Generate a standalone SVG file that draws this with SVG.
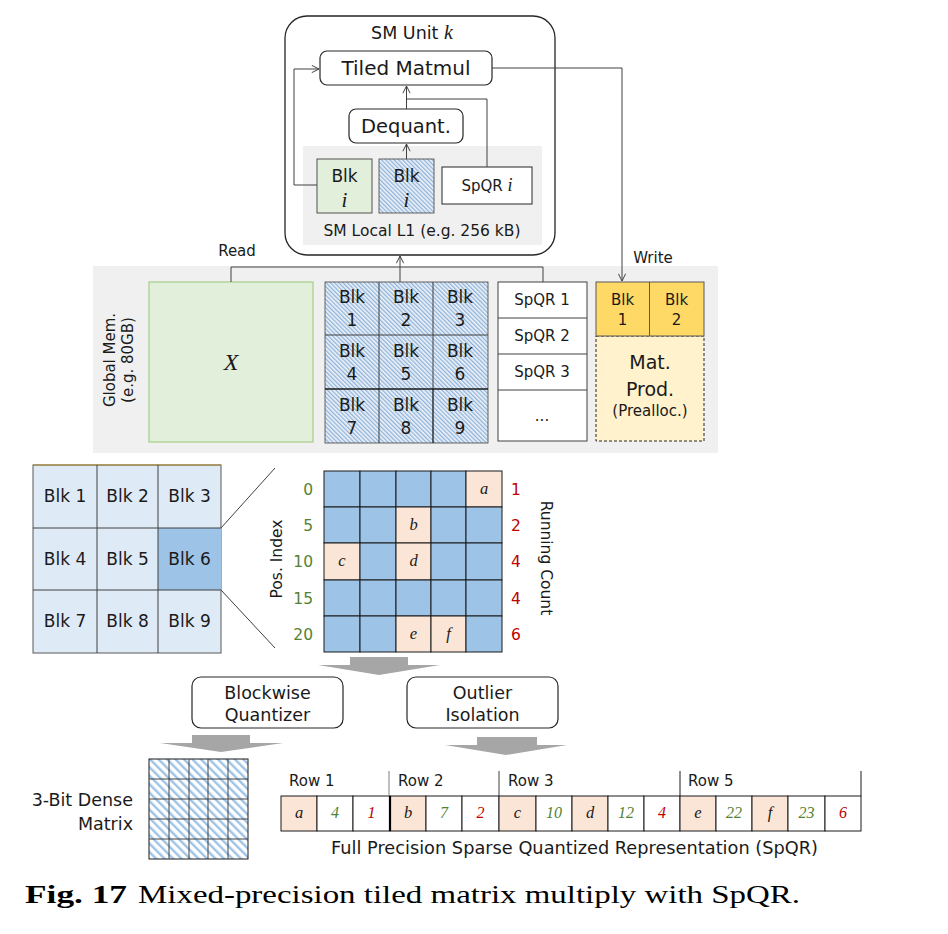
<svg xmlns="http://www.w3.org/2000/svg" width="948" height="934" viewBox="0 0 948 934">
<defs>
<style>
.s{font-family:"DejaVu Sans","Verdana",sans-serif;fill:#1a1a1a}
.m{font-family:"Liberation Serif","DejaVu Serif",serif;font-style:italic;fill:#1a1a1a}
.c{text-anchor:middle}
.ln{fill:none;stroke:#404040;stroke-width:1}
.g{fill:#548235}
.r{fill:#c00000}
.box{fill:#fff;stroke:#262626;stroke-width:1.2}
.hc{fill:url(#hatchFine);stroke:#404040;stroke-width:0.8}
.bl{fill:#9dc3e6;stroke:#1a1a1a;stroke-width:1}
.or{fill:#fbe5d6;stroke:#1a1a1a;stroke-width:1}
.ga{fill:#a6a6a6}
</style>
<pattern id="hatchFine" width="3" height="3" patternUnits="userSpaceOnUse" patternTransform="rotate(-45)">
<rect width="3" height="3" fill="#eef3f9"/>
<rect width="1.3" height="3" fill="#8fb2d8"/>
</pattern>
<pattern id="hatchWide" width="6" height="6" patternUnits="userSpaceOnUse" patternTransform="rotate(-45)">
<rect width="6" height="6" fill="#ffffff"/>
<rect width="2.4" height="6" fill="#9dc3e6"/>
</pattern>
<marker id="arr" viewBox="0 0 10 10" refX="9" refY="5" markerWidth="9" markerHeight="9" orient="auto" markerUnits="userSpaceOnUse">
<path d="M1,1 L9,5 L1,9" fill="none" stroke="#404040" stroke-width="1.1"/>
</marker>
</defs>
<rect width="948" height="934" fill="#ffffff"/>

<!-- Global memory background -->
<g id="global-mem">
<rect x="93" y="266" width="625" height="187" fill="#f0f0f0"/>
<text class="s c" font-size="15" transform="translate(115,360) rotate(-90)">Global Mem.</text>
<text class="s c" font-size="15" transform="translate(133,360) rotate(-90)">(e.g. 80GB)</text>
</g>

<!-- SM unit -->
<g id="sm-unit">
<rect x="285" y="16" width="270" height="239" rx="22" fill="#fff" stroke="#262626" stroke-width="1.3"/>
<text class="s c" font-size="17.5" x="412" y="39">SM Unit <tspan class="m" font-size="20">k</tspan></text>
<rect x="303" y="146" width="239" height="99" fill="#f0f0f0"/>
<text class="s c" font-size="15.5" x="422" y="236">SM Local L1 (e.g. 256 kB)</text>
</g>
<g id="tiled-matmul">
<rect x="320" y="51" width="172" height="34" rx="7" class="box"/>
<text class="s c" font-size="20" x="406" y="75">Tiled Matmul</text>
</g>
<g id="dequant">
<rect x="349" y="109" width="114" height="34" rx="7" class="box"/>
<text class="s c" font-size="19.5" x="406" y="133">Dequant.</text>
</g>
<g id="blk-i-x">
<rect x="317" y="159" width="55" height="54" fill="#e2efda" stroke="#404040" stroke-width="0.9"/>
<text class="s c" font-size="17" x="344.5" y="182">Blk</text>
<text class="m c" font-size="21" x="344.5" y="207">i</text>
</g>
<g id="blk-i-w">
<rect x="379" y="159" width="55" height="54" class="hc"/>
<text class="s c" font-size="17" x="406.5" y="182">Blk</text>
<text class="m c" font-size="21" x="406.5" y="207">i</text>
</g>
<g id="spqr-i">
<rect x="442" y="167" width="90" height="37" fill="#fff" stroke="#262626" stroke-width="1"/>
<text class="s c" font-size="15" x="487" y="191">SpQR <tspan class="m" font-size="18">i</tspan></text>
</g>

<!-- Global memory contents -->
<g id="x-matrix">
<rect x="149" y="282" width="164" height="160" fill="#e2efda" stroke="#a9d18e" stroke-width="1.3"/>
<text class="m c" font-size="24" x="231" y="370">X</text>
</g>
<g id="weight-blocks">
<rect x="325" y="282" width="163" height="161" class="hc"/>
<g class="ln" stroke="#555">
<line x1="379" y1="282" x2="379" y2="443"/>
<line x1="433" y1="282" x2="433" y2="389"/>
<line x1="325" y1="335" x2="488" y2="335"/>
</g>
<line x1="325" y1="389" x2="488" y2="389" stroke="#1a1a1a" stroke-width="1.5"/>
<line x1="433" y1="389" x2="433" y2="443" stroke="#1a1a1a" stroke-width="1.3"/>
<g class="s c" font-size="17">
<text x="352" y="303">Blk</text><text x="352" y="326">1</text>
<text x="406" y="303">Blk</text><text x="406" y="326">2</text>
<text x="460" y="303">Blk</text><text x="460" y="326">3</text>
<text x="352" y="357">Blk</text><text x="352" y="380">4</text>
<text x="406" y="357">Blk</text><text x="406" y="380">5</text>
<text x="460" y="357">Blk</text><text x="460" y="380">6</text>
<text x="352" y="411">Blk</text><text x="352" y="434">7</text>
<text x="406" y="411">Blk</text><text x="406" y="434">8</text>
<text x="460" y="411">Blk</text><text x="460" y="434">9</text>
</g>
</g>
<g id="spqr-list">
<rect x="498" y="282" width="89" height="159" fill="#fff" stroke="#404040" stroke-width="1"/>
<g class="ln">
<line x1="498" y1="318" x2="587" y2="318"/>
<line x1="498" y1="354" x2="587" y2="354"/>
<line x1="498" y1="390" x2="587" y2="390"/>
</g>
<g class="s c" font-size="15">
<text x="542" y="305">SpQR 1</text>
<text x="542" y="341">SpQR 2</text>
<text x="542" y="377">SpQR 3</text>
<text x="542" y="421">...</text>
</g>
</g>
<g id="mat-prod">
<rect x="596" y="336" width="108" height="105" fill="#fff2cc" stroke="#262626" stroke-width="1" stroke-dasharray="3,2"/>
<rect x="596" y="282" width="108" height="54" fill="#ffd966" stroke="#595959" stroke-width="1"/>
<line x1="649.5" y1="282" x2="649.5" y2="336" stroke="#595959" stroke-width="1"/>
<g class="s c" font-size="15">
<text x="622.5" y="305">Blk</text><text x="622.5" y="325">1</text>
<text x="676.5" y="305">Blk</text><text x="676.5" y="325">2</text>
</g>
<text class="s c" font-size="19" x="650" y="369">Mat.</text>
<text class="s c" font-size="19" x="650" y="396">Prod.</text>
<text class="s c" font-size="15" x="650" y="416">(Prealloc.)</text>
</g>

<!-- Connectors -->
<g id="connectors">
<polyline class="ln" points="317,185 294,185 294,69 319,69" marker-end="url(#arr)"/>
<line class="ln" x1="406.5" y1="159" x2="406.5" y2="144" marker-end="url(#arr)"/>
<line class="ln" x1="406.5" y1="109" x2="406.5" y2="86" marker-end="url(#arr)"/>
<polyline class="ln" points="487,167 487,99 406.5,99"/>
<polyline class="ln" points="492,68 622,68 622,281" marker-end="url(#arr)"/>
<polyline class="ln" points="231,282 231,267 543,267 543,282"/>
<line class="ln" x1="400" y1="282" x2="400" y2="256" marker-end="url(#arr)"/>
<line class="ln" x1="221" y1="528" x2="275" y2="468"/>
<line class="ln" x1="221" y1="590" x2="275" y2="648"/>
</g>
<text class="s c" font-size="15" x="237" y="256">Read</text>
<text class="s c" font-size="15" x="653" y="263">Write</text>

<!-- Bottom-left block grid -->
<g id="block-grid">
<rect x="33" y="465" width="188" height="188" fill="#deebf7" stroke="#595959" stroke-width="1"/>
<rect x="158" y="528" width="63" height="62" fill="#9dc3e6"/>
<line x1="33" y1="465" x2="221" y2="465" stroke="#b08a2a" stroke-width="1.2"/>
<g class="ln" stroke="#1a1a1a">
<line x1="97" y1="465" x2="97" y2="653"/>
<line x1="158" y1="465" x2="158" y2="653"/>
</g>
<g class="ln" stroke="#595959">
<line x1="33" y1="528" x2="221" y2="528"/>
<line x1="33" y1="590" x2="221" y2="590"/>
</g>
<g class="s c" font-size="17">
<text x="65" y="502">Blk 1</text><text x="127.5" y="502">Blk 2</text><text x="189.5" y="502">Blk 3</text>
<text x="65" y="565">Blk 4</text><text x="127.5" y="565">Blk 5</text><text x="189.5" y="565">Blk 6</text>
<text x="65" y="627">Blk 7</text><text x="127.5" y="627">Blk 8</text><text x="189.5" y="627">Blk 9</text>
</g>
</g>

<!-- Block 6 detail -->
<g id="block6-detail">
<g>
<rect class="bl" x="324" y="471" width="36" height="36"/><rect class="bl" x="360" y="471" width="36" height="36"/><rect class="bl" x="396" y="471" width="35" height="36"/><rect class="bl" x="431" y="471" width="35" height="36"/><rect class="or" x="466" y="471" width="36" height="36" stroke="#7f7f7f"/>
<rect class="bl" x="324" y="507" width="36" height="36"/><rect class="bl" x="360" y="507" width="36" height="36"/><rect class="or" x="396" y="507" width="35" height="36"/><rect class="bl" x="431" y="507" width="35" height="36"/><rect class="bl" x="466" y="507" width="36" height="36"/>
<rect class="or" x="324" y="543" width="36" height="37"/><rect class="bl" x="360" y="543" width="36" height="37"/><rect class="or" x="396" y="543" width="35" height="37"/><rect class="bl" x="431" y="543" width="35" height="37"/><rect class="bl" x="466" y="543" width="36" height="37"/>
<rect class="bl" x="324" y="580" width="36" height="36"/><rect class="bl" x="360" y="580" width="36" height="36"/><rect class="bl" x="396" y="580" width="35" height="36"/><rect class="bl" x="431" y="580" width="35" height="36"/><rect class="bl" x="466" y="580" width="36" height="36"/>
<rect class="bl" x="324" y="616" width="36" height="36"/><rect class="bl" x="360" y="616" width="36" height="36"/><rect class="or" x="396" y="616" width="35" height="36"/><rect class="or" x="431" y="616" width="35" height="36"/><rect class="bl" x="466" y="616" width="36" height="36"/>
</g>
<g class="m c" font-size="16.5">
<text x="484" y="494">a</text>
<text x="413.5" y="530">b</text>
<text x="342" y="566">c</text>
<text x="413.5" y="566">d</text>
<text x="413.5" y="639">e</text>
<text x="448.5" y="639">f</text>
</g>
<g class="s g" font-size="15.5" text-anchor="end">
<text x="313" y="495">0</text>
<text x="313" y="531">5</text>
<text x="313" y="567">10</text>
<text x="313" y="604">15</text>
<text x="313" y="640">20</text>
</g>
<g class="s r" font-size="15.5">
<text x="511" y="495">1</text>
<text x="511" y="531">2</text>
<text x="511" y="567">4</text>
<text x="511" y="604">4</text>
<text x="511" y="640">6</text>
</g>
<text class="s c" font-size="15.5" transform="translate(282,559) rotate(-90)">Pos. Index</text>
<text class="s c" font-size="15.5" transform="translate(541,558) rotate(90)">Running Count</text>
</g>

<!-- Block arrows -->
<polygon class="ga" points="350,657 408,657 408,665 440,665 379,675 318,665 350,665"/>
<polygon class="ga" points="192,735 250,735 250,743 283,743 221,752 160,743 192,743"/>
<polygon class="ga" points="477,737 537,737 537,745 567,745 506,755 445,745 477,745"/>

<g id="blockwise-quantizer">
<rect x="192" y="677" width="151" height="51" rx="9" class="box"/>
<text class="s c" font-size="17.5" x="267.5" y="699">Blockwise</text>
<text class="s c" font-size="17.5" x="267.5" y="721">Quantizer</text>
</g>
<g id="outlier-isolation">
<rect x="407" y="677" width="151" height="51" rx="9" class="box"/>
<text class="s c" font-size="17.5" x="482.5" y="699">Outlier</text>
<text class="s c" font-size="17.5" x="482.5" y="721">Isolation</text>
</g>

<!-- 3-bit dense matrix -->
<g id="dense-matrix">
<rect x="149" y="759" width="99" height="100" fill="url(#hatchWide)" stroke="#1a1a1a" stroke-width="1"/>
<g class="ln" stroke="#404040">
<line x1="169" y1="759" x2="169" y2="859"/><line x1="189" y1="759" x2="189" y2="859"/><line x1="208" y1="759" x2="208" y2="859"/><line x1="228" y1="759" x2="228" y2="859"/>
<line x1="149" y1="779" x2="248" y2="779"/><line x1="149" y1="799" x2="248" y2="799"/><line x1="149" y1="819" x2="248" y2="819"/><line x1="149" y1="839" x2="248" y2="839"/>
</g>
<text class="s" font-size="17.5" text-anchor="end" x="133" y="806">3-Bit Dense</text>
<text class="s" font-size="17.5" text-anchor="end" x="133" y="830">Matrix</text>
</g>

<!-- SpQR representation -->
<g id="spqr-repr">
<g stroke="#1a1a1a" stroke-width="1">
<rect class="or" x="281" y="796" width="36" height="35"/>
<rect fill="#fff" x="317" y="796" width="36" height="35"/>
<rect fill="#fff" x="353" y="796" width="37" height="35"/>
<rect class="or" x="390" y="796" width="36" height="35"/>
<rect fill="#fff" x="426" y="796" width="36" height="35"/>
<rect fill="#fff" x="462" y="796" width="37" height="35"/>
<rect class="or" x="499" y="796" width="37" height="35"/>
<rect fill="#fff" x="536" y="796" width="36" height="35"/>
<rect class="or" x="572" y="796" width="36" height="35"/>
<rect fill="#fff" x="608" y="796" width="36" height="35"/>
<rect fill="#fff" x="644" y="796" width="36" height="35"/>
<rect class="or" x="680" y="796" width="36" height="35"/>
<rect fill="#fff" x="716" y="796" width="36" height="35"/>
<rect class="or" x="752" y="796" width="36" height="35"/>
<rect fill="#fff" x="788" y="796" width="37" height="35"/>
<rect fill="#fff" x="825" y="796" width="36" height="35"/>
</g>
<line x1="390" y1="796" x2="390" y2="831" stroke="#000" stroke-width="2.2"/>
<line x1="389" y1="771" x2="389" y2="796" stroke="#7f7f7f" stroke-width="1"/>
<line x1="499" y1="771" x2="499" y2="796" stroke="#404040" stroke-width="1"/>
<line x1="680" y1="771" x2="680" y2="796" stroke="#1a1a1a" stroke-width="1"/>
<line x1="861" y1="771" x2="861" y2="796" stroke="#1a1a1a" stroke-width="1"/>
<g class="s" font-size="15">
<text x="289" y="786">Row 1</text>
<text x="398" y="786">Row 2</text>
<text x="508" y="786">Row 3</text>
<text x="688" y="786">Row 5</text>
</g>
<g class="m c" font-size="16.5">
<text x="299" y="818">a</text>
<text x="408" y="818">b</text>
<text x="517.5" y="818">c</text>
<text x="590" y="818">d</text>
<text x="698" y="818">e</text>
<text x="770" y="818">f</text>
</g>
<g class="m c g" font-size="16">
<text x="335" y="818">4</text>
<text x="444" y="818">7</text>
<text x="554" y="818">10</text>
<text x="626" y="818">12</text>
<text x="734" y="818">22</text>
<text x="806.5" y="818">23</text>
</g>
<g class="m c r" font-size="16">
<text x="371.5" y="818">1</text>
<text x="480.5" y="818">2</text>
<text x="662" y="818">4</text>
<text x="843" y="818">6</text>
</g>
<text class="s" font-size="17" x="331" y="854" textLength="487" lengthAdjust="spacingAndGlyphs">Full Precision Sparse Quantized Representation (SpQR)</text>
</g>

<!-- Caption -->
<g id="caption" font-family="'Liberation Serif','DejaVu Serif',serif" font-size="25" fill="#000">
<text x="25" y="903" font-weight="bold" textLength="102" lengthAdjust="spacingAndGlyphs">Fig. 17</text>
<text x="138" y="903" textLength="662" lengthAdjust="spacingAndGlyphs">Mixed-precision tiled matrix multiply with SpQR.</text>
</g>
</svg>
